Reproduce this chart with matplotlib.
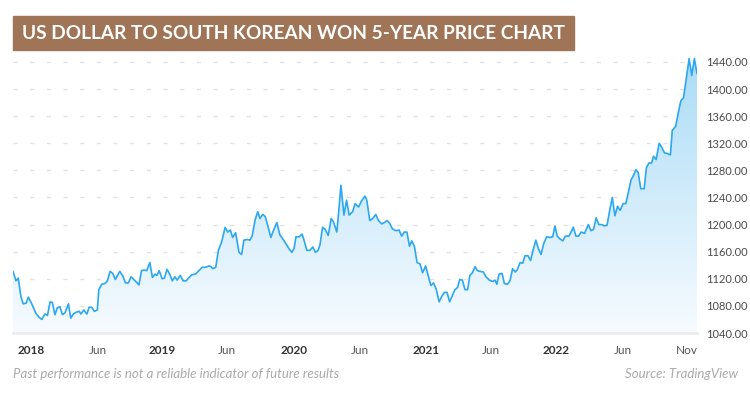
import numpy as np
import matplotlib
matplotlib.use('Agg')
import matplotlib.pyplot as plt
from matplotlib.colors import LinearSegmentedColormap
from matplotlib.patches import Rectangle

plt.rcParams['font.family'] = ['Lato', 'DejaVu Sans']

# days since 4 Nov 2017 and USD/KRW weekly close
days = [0, 8, 14, 21, 27, 35, 41, 50, 61, 70, 77, 85, 92, 99, 105, 112, 118, 125, 132, 139,
        148, 154, 161, 170, 177, 181, 189, 197, 203, 210, 217, 225, 229, 237, 245, 252, 259, 266, 273, 285,
        293, 300, 308, 315, 326, 336, 343, 350, 357, 365, 372, 379, 384, 390, 398, 404, 411, 418, 425, 432,
        438, 446, 454, 462, 470, 477, 487, 496, 505, 514, 523, 528, 533, 541, 548, 557, 566, 573, 580, 586,
        594, 603, 610, 616, 625, 632, 638, 646, 653, 659, 666, 673, 681, 688, 694, 704, 712, 721, 730, 737,
        744, 750, 755, 764, 771, 776, 784, 792, 800, 807, 814, 819, 826, 833, 841, 849, 855, 864, 869, 875,
        883, 890, 897, 906, 913, 922, 930, 939, 944, 952, 960, 968, 975, 984, 991, 998, 1005, 1012, 1021, 1030,
        1037, 1044, 1051, 1058, 1064, 1071, 1078, 1086, 1093, 1101, 1108, 1115, 1122, 1129, 1137, 1144, 1151, 1158, 1165, 1172,
        1179, 1186, 1192, 1199, 1206, 1213, 1219, 1226, 1233, 1239, 1246, 1255, 1262, 1271, 1280, 1286, 1291, 1297, 1305, 1311,
        1319, 1326, 1333, 1340, 1345, 1353, 1360, 1366, 1374, 1381, 1388, 1395, 1402, 1409, 1416, 1424, 1433, 1440, 1446, 1452,
        1459, 1467, 1474, 1483, 1488, 1495, 1502, 1509, 1516, 1525, 1535, 1542, 1549, 1556, 1563, 1571, 1578, 1585, 1592, 1599,
        1606, 1613, 1620, 1628, 1635, 1642, 1649, 1656, 1662, 1668, 1675, 1684, 1690, 1697, 1704, 1709, 1716, 1724, 1731, 1738,
        1745, 1754, 1759, 1768, 1775, 1782, 1789, 1796, 1804, 1811, 1818, 1825]
rate = [1131, 1117, 1121, 1094, 1083, 1084, 1093, 1083, 1069, 1063, 1060, 1068, 1066, 1086, 1085, 1067, 1077, 1079, 1067, 1070,
        1083, 1062, 1068, 1071, 1072, 1068, 1074, 1068, 1078, 1078, 1072, 1074, 1104, 1112, 1113, 1117, 1131, 1128, 1119, 1131,
        1124, 1114, 1114, 1123, 1117, 1111, 1132, 1133, 1132, 1144, 1122, 1127, 1125, 1132, 1120, 1121, 1134, 1127, 1117, 1123,
        1118, 1125, 1117, 1117, 1122, 1126, 1127, 1132, 1137, 1137, 1139, 1138, 1135, 1137, 1162, 1175, 1196, 1189, 1192, 1181,
        1188, 1159, 1156, 1177, 1178, 1177, 1183, 1207, 1219, 1209, 1215, 1212, 1196, 1181, 1190, 1203, 1185, 1178, 1170, 1164,
        1159, 1165, 1182, 1182, 1186, 1178, 1162, 1162, 1167, 1159, 1162, 1170, 1196, 1193, 1184, 1209, 1204, 1189, 1219, 1258,
        1214, 1236, 1214, 1219, 1231, 1226, 1235, 1242, 1236, 1206, 1209, 1215, 1206, 1201, 1203, 1206, 1202, 1194, 1191, 1192,
        1183, 1189, 1189, 1168, 1176, 1168, 1144, 1142, 1129, 1139, 1124, 1110, 1114, 1105, 1086, 1094, 1100, 1100, 1086, 1095,
        1104, 1107, 1119, 1118, 1104, 1104, 1125, 1129, 1138, 1132, 1131, 1130, 1123, 1118, 1116, 1118, 1112, 1127, 1128, 1113,
        1112, 1117, 1135, 1130, 1133, 1144, 1143, 1154, 1154, 1147, 1163, 1177, 1164, 1156, 1172, 1182, 1181, 1182, 1198, 1183,
        1179, 1176, 1183, 1183, 1188, 1196, 1183, 1183, 1189, 1187, 1200, 1191, 1193, 1210, 1200, 1200, 1198, 1199, 1221, 1240,
        1213, 1227, 1221, 1231, 1231, 1248, 1266, 1273, 1281, 1277, 1253, 1253, 1284, 1291, 1291, 1301, 1296, 1320, 1314, 1306,
        1305, 1303, 1339, 1345, 1365, 1383, 1387, 1414, 1445, 1420, 1445, 1423]

tick_days = [49, 226, 399, 572, 749, 925, 1101, 1275, 1450, 1628, 1797]
tick_labels = ['2018', 'Jun', '2019', 'Jun', '2020', 'Jun', '2021', 'Jun', '2022', 'Jun', 'Nov']
y_ticks = [1040, 1080, 1120, 1160, 1200, 1240, 1280, 1320, 1360, 1400, 1440]

fig = plt.figure(figsize=(7.5, 3.97), dpi=100)
ax = fig.add_axes([13 / 750, 64 / 397, 684 / 750, 277.8 / 397])
ax.set_xlim(0, 1825)
ax.set_ylim(1040, 1450)

# gradient fill under the line
cmap = LinearSegmentedColormap.from_list('fade', ['#f7fbff', '#aadcf6'])
poly = ax.fill_between(days, rate, 1040, color='none', lw=0)
grad = np.linspace(0, 1, 256).reshape(-1, 1)
im = ax.imshow(grad, extent=[0, 1825, 1040, 1450], origin='lower', aspect='auto', cmap=cmap, zorder=1)
im.set_clip_path(poly.get_paths()[0], transform=ax.transData)

ax.plot(days, rate, color='#2ba8f0', lw=1.2, zorder=3)

ax.set_yticks(y_ticks)
ax.set_yticklabels([f'{v:.2f}' for v in y_ticks])
ax.yaxis.tick_right()
ax.grid(axis='y', color='#e2e2e2', lw=1, linestyle=(0, (3, 9)), zorder=0)
ax.set_axisbelow(True)
ax.tick_params(axis='y', length=0, pad=6.5, labelsize=8, labelcolor='#4a4a4a')

ax.set_xticks(tick_days)
ax.set_xticklabels(tick_labels)
ax.tick_params(axis='x', length=0, pad=9, labelsize=8.5, labelcolor='#555555')
for lbl in ax.get_xticklabels():
    if lbl.get_text()[0].isdigit():
        lbl.set_fontweight('bold')
        lbl.set_color('#333333')

for s in ['top', 'left', 'right']:
    ax.spines[s].set_visible(False)
ax.spines['bottom'].set_color('#ececec')
ax.spines['bottom'].set_linewidth(2)

# title banner
fig.patches.append(Rectangle((13 / 750, 1 - 50 / 397), 561 / 750, 34 / 397,
                             transform=fig.transFigure, color='#a07456', zorder=0))
fig.text(22 / 750, 1 - 33.5 / 397, 'US DOLLAR TO SOUTH KOREAN WON 5-YEAR PRICE CHART',
         color='white', fontsize=13.7, fontweight='bold', va='center', ha='left')

fig.text(13 / 750, 1 - 374 / 397, 'Past performance is not a reliable indicator of future results',
         color='#ababab', fontsize=9.5, style='italic', va='center', ha='left')
fig.text(738 / 750, 1 - 374 / 397, 'Source: TradingView',
         color='#ababab', fontsize=9.5, style='italic', va='center', ha='right')

fig.savefig('out.png', dpi=100)
